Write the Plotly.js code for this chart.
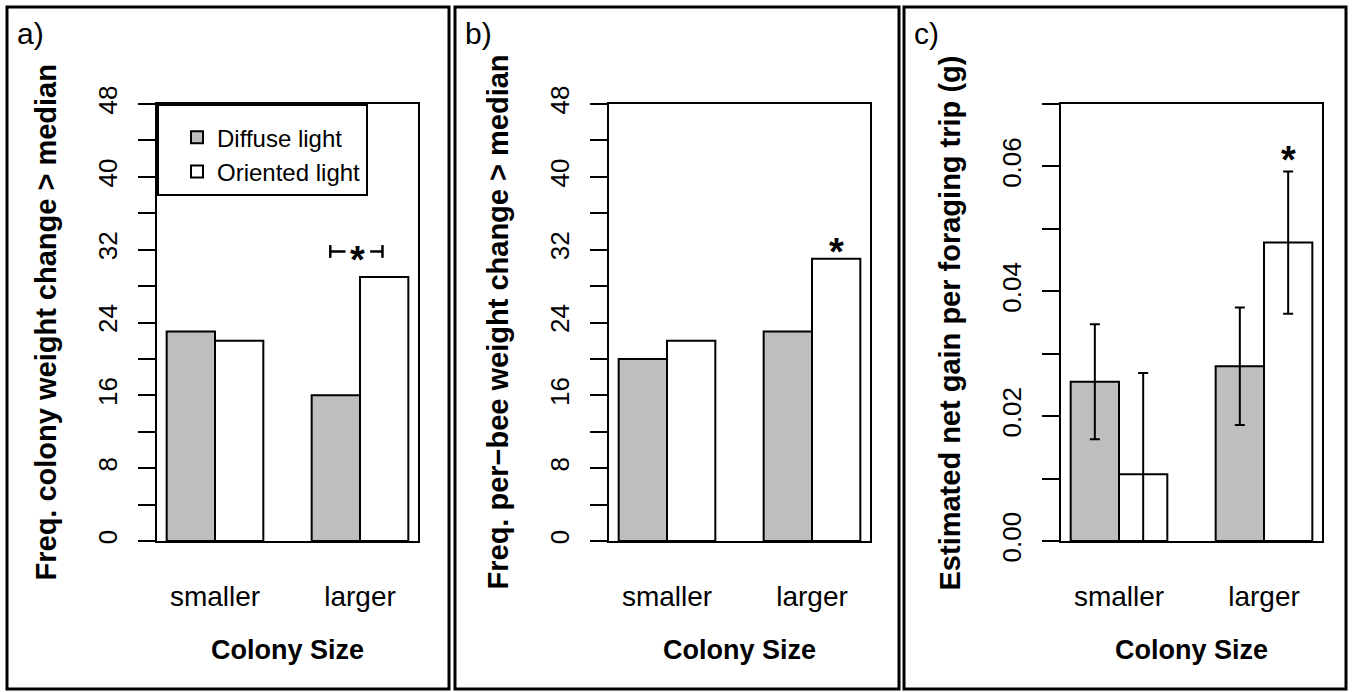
<!DOCTYPE html>
<html>
<head>
<meta charset="utf-8">
<script src="https://cdn.plot.ly/plotly-3.0.1.min.js"></script>
<style>html,body{margin:0;padding:0;background:#fff;}#chart{width:1352px;height:692px;}</style>
</head>
<body>
<div id="chart"></div>
<script>
// ---- data ----
const categories = ['smaller', 'larger'];
const seriesNames = ['Diffuse light', 'Oriented light'];
// panel a: Freq. colony weight change > median
const diffuseA = [23, 16];
const orientedA = [22, 29];
// panel b: Freq. per-bee weight change > median
const diffuseB = [20, 23];
const orientedB = [22, 31];
// panel c: estimated net gain per foraging trip (g)
const diffuseC = [0.0255, 0.0280];
const orientedC = [0.0107, 0.0478];
const diffuseCErr = [0.0092, 0.0094];
const orientedCErr = [0.0162, 0.0114];
// tick values / labels
const freqTicks = [0, 4, 8, 12, 16, 20, 24, 28, 32, 36, 40, 44, 48];
const freqTickText = ['0', '', '8', '', '16', '', '24', '', '32', '', '40', '', '48'];
const gainTicks = [0, 0.01, 0.02, 0.03, 0.04, 0.05, 0.06, 0.07];
const gainTickText = ['0.00', '', '0.02', '', '0.04', '', '0.06', ''];
// significance marks (y value of the star)
const sigA = 31.8, sigB = 32.7, sigC = 0.0625;
const panelLabels = ['a)', 'b)', 'c)'];
const yTitles = ['Freq. colony weight change > median', 'Freq. per\u2212bee weight change > median', 'Estimated net gain per foraging trip (g)'];
const xTitle = 'Colony Size';

// ---- layout helpers ----
const W = 1352, H = 692;
const PX = v => v / W;
const PY = v => 1 - v / H;
const FONT = 'Liberation Sans, Arial, Helvetica, sans-serif';
const grey = '#bebebe';
const plotLeft = [157, 609, 1061];
const plotWidth = 261;
const plotTop = 104, plotBottom = 541;
const frames = [[7, 449], [455, 899], [904, 1346]];
const barOffset = 1 / 6; // offset of each bar from its category centre (category units)

function bar(name, x, y, color, axisIdx, showlegend, err) {
  const t = {
    type: 'bar', name: name, x: x, y: y,
    xaxis: 'x' + (axisIdx === 1 ? '' : axisIdx), yaxis: 'y' + (axisIdx === 1 ? '' : axisIdx),
    marker: {color: color, line: {color: '#000', width: 2}},
    showlegend: showlegend, legendgroup: name, hoverinfo: 'x+y'
  };
  if (err) t.error_y = {type: 'data', array: err, visible: true, color: '#000', thickness: 2, width: 5};
  return t;
}

const data = [
  bar(seriesNames[0], categories, diffuseA, grey, 1, true),
  bar(seriesNames[1], categories, orientedA, '#ffffff', 1, true),
  bar(seriesNames[0], categories, diffuseB, grey, 2, false),
  bar(seriesNames[1], categories, orientedB, '#ffffff', 2, false),
  bar(seriesNames[0], categories, diffuseC, grey, 3, false, diffuseCErr),
  bar(seriesNames[1], categories, orientedC, '#ffffff', 3, false, orientedCErr)
];

function xax(i) {
  return {
    type: 'category', range: [-0.4, 1.4],
    domain: [PX(plotLeft[i]), PX(plotLeft[i] + plotWidth)],
    anchor: 'y' + (i === 0 ? '' : i + 1),
    showline: true, linecolor: '#000', linewidth: 2, mirror: true,
    ticks: '', showgrid: false, zeroline: false,
    tickfont: {family: FONT, size: 28, color: '#000'},
    ticklabelstandoff: 29, fixedrange: true
  };
}
function yax(i, range, tv, tt) {
  return {
    range: range, domain: [PY(plotBottom), PY(plotTop)],
    anchor: 'x' + (i === 0 ? '' : i + 1),
    tickmode: 'array', tickvals: tv, ticktext: tt,
    ticks: 'outside', ticklen: 17, tickwidth: 2, tickcolor: '#000',
    tickangle: -90, tickfont: {family: FONT, size: 26, color: '#000'},
    ticklabelstandoff: 11,
    showline: true, linecolor: '#000', linewidth: 2, mirror: true,
    showgrid: false, zeroline: false, fixedrange: true
  };
}

const shapes = frames.map(f => ({
  type: 'rect', xref: 'paper', yref: 'paper',
  x0: PX(f[0]), x1: PX(f[1]), y0: PY(689), y1: PY(7),
  line: {color: '#000', width: 3}, fillcolor: 'rgba(0,0,0,0)', layer: 'above'
}));
// significance bracket, panel a (around the "larger" group)
const gi = categories.indexOf('larger');
const capH = 0.7;
const bL = gi - 0.205, bLin = gi - 0.1, bRin = gi + 0.07, bR = gi + 0.155;
[[bL, bLin], [bRin, bR]].forEach(seg => shapes.push({
  type: 'line', xref: 'x', yref: 'y', x0: seg[0], x1: seg[1], y0: sigA, y1: sigA,
  line: {color: '#000', width: 2.5}
}));
[bL, bR].forEach(xv => shapes.push({
  type: 'line', xref: 'x', yref: 'y', x0: xv, x1: xv, y0: sigA - capH, y1: sigA + capH,
  line: {color: '#000', width: 2.5}
}));

const annotations = [];
panelLabels.forEach((t, i) => annotations.push({
  text: t, xref: 'paper', yref: 'paper', x: PX(frames[i][0] + 8), y: PY(33),
  xanchor: 'left', yanchor: 'middle', showarrow: false,
  font: {family: FONT, size: 30, color: '#000'}
}));
yTitles.forEach((t, i) => annotations.push({
  text: '<b>' + t + '</b>', xref: 'paper', yref: 'paper',
  x: PX(plotLeft[i] - 112), y: PY((plotTop + plotBottom) / 2),
  xanchor: 'center', yanchor: 'middle', textangle: -90, showarrow: false,
  font: {family: FONT, size: 29, color: '#000'}
}));
plotLeft.forEach(l => annotations.push({
  text: '<b>' + xTitle + '</b>', xref: 'paper', yref: 'paper',
  x: PX(l + plotWidth / 2), y: PY(650), xanchor: 'center', yanchor: 'middle', showarrow: false,
  font: {family: FONT, size: 27, color: '#000'}
}));
const starFont = {family: FONT, size: 38, color: '#000'};
annotations.push({text: '<b>*</b>', xref: 'x', yref: 'y', x: gi - 0.015, y: sigA, showarrow: false,
  yanchor: 'middle', yshift: -9, font: starFont});
annotations.push({text: '<b>*</b>', xref: 'x2', yref: 'y2', x: gi + barOffset, y: sigB, showarrow: false,
  yanchor: 'middle', yshift: -9, font: starFont});
annotations.push({text: '<b>*</b>', xref: 'x3', yref: 'y3', x: gi + barOffset, y: sigC, showarrow: false,
  yanchor: 'middle', yshift: -9, font: starFont});

const layout = {
  width: W, height: H, margin: {l: 0, r: 0, t: 0, b: 0},
  paper_bgcolor: '#fff', plot_bgcolor: '#fff',
  barmode: 'group', bargap: 1 / 3, bargroupgap: 0,
  font: {family: FONT, color: '#000'},
  xaxis: xax(0), xaxis2: xax(1), xaxis3: xax(2),
  yaxis: yax(0, [0, 48], freqTicks, freqTickText),
  yaxis2: yax(1, [0, 48], freqTicks, freqTickText),
  yaxis3: yax(2, [0, 0.07], gainTicks, gainTickText),
  legend: {
    x: PX(plotLeft[0]), y: PY(plotTop), xanchor: 'left', yanchor: 'top',
    bgcolor: '#fff', bordercolor: '#000', borderwidth: 2,
    font: {family: FONT, size: 24, color: '#000'},
    title: {text: ' ', font: {size: 7}},
    indentation: 18, itemwidth: 30, traceorder: 'normal'
  },
  shapes: shapes, annotations: annotations
};

Plotly.newPlot('chart', data, layout, {displayModeBar: false, staticPlot: true});
</script>
</body>
</html>
